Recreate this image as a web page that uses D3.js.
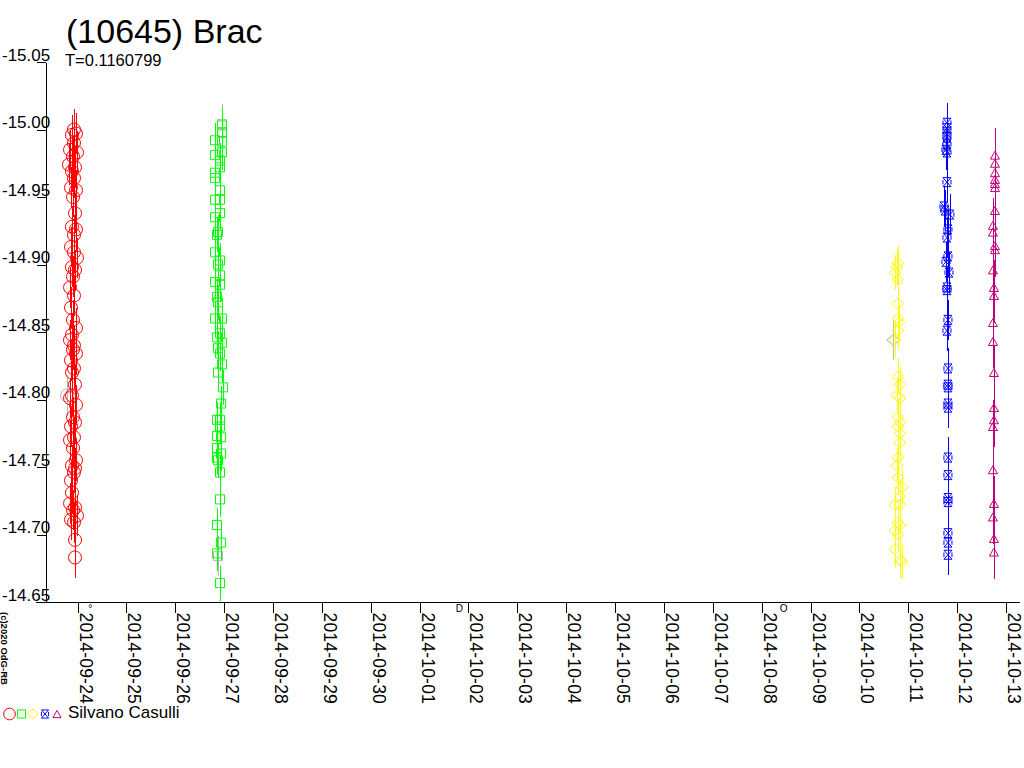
<!DOCTYPE html>
<html><head><meta charset="utf-8">
<script src="https://cdn.jsdelivr.net/npm/d3@7"></script>
<style>
html,body{margin:0;padding:0;background:#fff;}
svg{display:block;font-family:"Liberation Sans",Arial,sans-serif;}
</style></head><body>
<svg id="chart" width="1024" height="768"></svg>
<script>
// ---------- data ----------
const titleText = "(10645) Brac";
const subtitleText = "T=0.1160799";
const observerName = "Silvano Casulli";
const creditText = "(c)2020 OdG-RB";
const baseDate = "2014-09-24";           // day offsets below are counted from this date (UT)
const xStart = "2014-09-24", xEnd = "2014-10-13";
const yTicks = [-15.05, -15.00, -14.95, -14.90, -14.85, -14.80, -14.75, -14.70, -14.65];

const moonDates = ["2014-09-24T06:14Z", "2014-10-01T19:33Z", "2014-10-08T10:51Z"];
const moonSymbols = ["°", "D", "O"];

// series 1 (red circles)
const redDT = [-0.072,-0.031,-0.113,-0.072,-0.153,-0.010,-0.092,-0.174,-0.051,-0.113,-0.072,-0.133,-0.031,-0.092,-0.051,-0.113,-0.031,-0.072,-0.133,-0.072,-0.010,-0.113,-0.051,-0.092,-0.153,-0.072,-0.133,-0.092,-0.031,-0.113,-0.153,-0.072,-0.092,-0.031,-0.133,-0.072,-0.113,-0.051,-0.113,-0.153,-0.031,-0.092,-0.051,-0.133,-0.072,-0.153,-0.092,-0.031,-0.113,-0.051,-0.072,-0.133,-0.113,-0.153,-0.051,-0.092,-0.010,-0.133,-0.072,-0.051,-0.051];
const redMag = [-15.000,-14.997,-14.996,-14.990,-14.985,-14.983,-14.980,-14.974,-14.972,-14.969,-14.964,-14.957,-14.955,-14.950,-14.938,-14.928,-14.926,-14.922,-14.913,-14.909,-14.905,-14.898,-14.896,-14.891,-14.883,-14.877,-14.868,-14.859,-14.853,-14.848,-14.844,-14.840,-14.837,-14.834,-14.829,-14.823,-14.820,-14.811,-14.803,-14.801,-14.796,-14.787,-14.783,-14.780,-14.772,-14.770,-14.764,-14.755,-14.751,-14.749,-14.746,-14.740,-14.731,-14.723,-14.720,-14.718,-14.714,-14.711,-14.709,-14.696,-14.683];
// series 2 (green squares)
const greenDT = [2.957,2.957,2.814,2.957,2.957,2.814,2.916,2.916,2.814,2.814,2.916,2.814,2.916,2.916,2.814,2.875,2.854,2.814,2.916,2.875,2.916,2.814,2.916,2.854,2.875,2.814,2.957,2.916,2.854,2.957,2.875,2.916,2.957,2.875,2.977,2.936,2.854,2.916,2.916,2.854,2.936,2.854,2.936,2.854,2.875,2.916,2.916,2.854,2.936,2.854,2.916];
const greenMag = [-15.003,-14.998,-14.992,-14.991,-14.983,-14.981,-14.977,-14.972,-14.968,-14.964,-14.955,-14.948,-14.948,-14.938,-14.935,-14.924,-14.922,-14.909,-14.903,-14.900,-14.892,-14.887,-14.885,-14.876,-14.872,-14.860,-14.860,-14.849,-14.846,-14.842,-14.838,-14.834,-14.826,-14.820,-14.809,-14.797,-14.785,-14.785,-14.780,-14.773,-14.772,-14.764,-14.760,-14.757,-14.755,-14.746,-14.726,-14.707,-14.694,-14.686,-14.664];
// series 3 (yellow diamonds)
const yellowDT = [16.789,16.769,16.728,16.789,16.789,16.789,16.810,16.789,16.728,16.789,16.830,16.769,16.830,16.789,16.830,16.789,16.830,16.830,16.789,16.769,16.789,16.871,16.830,16.728,16.830,16.789,16.830,16.728,16.789,16.728,16.830,16.871];
const yellowMag = [-14.901,-14.898,-14.894,-14.889,-14.871,-14.860,-14.857,-14.851,-14.844,-14.817,-14.811,-14.803,-14.801,-14.787,-14.783,-14.780,-14.775,-14.768,-14.757,-14.751,-14.742,-14.735,-14.728,-14.722,-14.722,-14.709,-14.707,-14.703,-14.700,-14.689,-14.681,-14.680];
// series 4 (blue hourglass boxes)
const blueDT = [17.792,17.792,17.792,17.792,17.792,17.771,17.792,17.792,17.731,17.751,17.853,17.812,17.792,17.812,17.771,17.833,17.792,17.792,17.812,17.792,17.812,17.812,17.812,17.812,17.812,17.812,17.812,17.812,17.812,17.812,17.812,17.812];
const blueMag = [-15.005,-15.001,-14.997,-14.994,-14.989,-14.985,-14.983,-14.961,-14.943,-14.940,-14.937,-14.926,-14.920,-14.906,-14.902,-14.894,-14.883,-14.881,-14.859,-14.851,-14.823,-14.811,-14.809,-14.797,-14.794,-14.757,-14.744,-14.727,-14.724,-14.701,-14.694,-14.685];
// series 5 (magenta triangles)
const magentaDT = [18.774,18.774,18.774,18.774,18.774,18.774,18.774,18.733,18.733,18.774,18.774,18.733,18.753,18.753,18.733,18.733,18.753,18.753,18.753,18.733,18.733,18.753,18.733,18.753,18.753];
const magentaMag = [-14.981,-14.975,-14.968,-14.963,-14.960,-14.957,-14.940,-14.929,-14.924,-14.914,-14.911,-14.896,-14.883,-14.877,-14.857,-14.843,-14.820,-14.794,-14.785,-14.780,-14.748,-14.723,-14.713,-14.697,-14.687];
// rejected points (grey)
const greyDT = [-0.215, 2.957, 2.875, 16.687];
const greyMag = [-14.803, -15.004, -14.684, -14.844];
const greyShape = ["circle", "square", "square", "diamond"];

const seriesErr = [0.015, 0.013, 0.013, 0.015, 0.020];
const seriesColors = ["#ff0000", "#00ff00", "#ffff00", "#0000ff", "#c0007f"];
const seriesShapes = ["circle", "square", "diamond", "hourglass", "triangle"];
const greyColor = "#b4b4b4";

// ---------- chart ----------
const svg = d3.select("#chart");
const DAY = 86400000;
const base = Date.parse(baseDate + "T00:00Z");
const toDate = dt => new Date(base + dt * DAY);

const x = d3.scaleUtc().domain([new Date(xStart + "T00:00Z"), new Date(xEnd + "T00:00Z")]).range([77.5, 1006]);
const y = d3.scaleLinear().domain([-15.05, -14.65]).range([62, 602]);

function shapePath(shape, s) {
  switch (shape) {
    case "circle": { const r = 6.5 * s; return `M${-r},0A${r},${r} 0 1,0 ${r},0A${r},${r} 0 1,0 ${-r},0Z`; }
    case "square": { const h = 4.5 * s; return `M${-h},${-h}H${h}V${h}H${-h}Z`; }
    case "diamond": { const w = 6 * s, h = 5.5 * s; return `M0,${-h}L${w},0L0,${h}L${-w},0Z`; }
    case "hourglass": { const w = 4 * s, h = 4.5 * s;
      return `M${-w},${-h}H${w}L${-w},${h}H${w}Z M${-w},${-h*0.5}V${h*0.5} M${w},${-h*0.5}V${h*0.5}`; }
    case "triangle": { const w = 4.5 * s, h = 4 * s; return `M0,${-h}L${w},${h}H${-w}Z`; }
  }
}

const seriesDT = [redDT, greenDT, yellowDT, blueDT, magentaDT];
const seriesMag = [redMag, greenMag, yellowMag, blueMag, magentaMag];

const plot = svg.append("g");

// grey (rejected) points
const greyPts = greyDT.map((d, i) => ({ t: toDate(d), m: greyMag[i], shape: greyShape[i] }));
plot.selectAll("line.grey").data(greyPts).join("line")
  .attr("x1", d => Math.round(x(d.t)) + 0.5).attr("x2", d => Math.round(x(d.t)) + 0.5)
  .attr("y1", d => y(d.m - 0.015)).attr("y2", d => y(d.m + 0.015))
  .attr("stroke", greyColor).attr("stroke-width", 1).attr("shape-rendering", "crispEdges");
plot.selectAll("path.grey").data(greyPts).join("path")
  .attr("transform", d => `translate(${x(d.t)},${y(d.m)})`)
  .attr("d", d => shapePath(d.shape, 1))
  .attr("fill", "none").attr("stroke", greyColor).attr("stroke-width", 1);

seriesDT.forEach((dts, si) => {
  const pts = dts.map((d, i) => ({ t: toDate(d), m: seriesMag[si][i] }));
  const g = plot.append("g");
  g.selectAll("line").data(pts).join("line")
    .attr("x1", d => Math.round(x(d.t)) + 0.5).attr("x2", d => Math.round(x(d.t)) + 0.5)
    .attr("y1", d => y(d.m - seriesErr[si])).attr("y2", d => y(d.m + seriesErr[si]))
    .attr("stroke", seriesColors[si]).attr("stroke-width", 1).attr("shape-rendering", "crispEdges");
  g.selectAll("path").data(pts).join("path")
    .attr("transform", d => `translate(${x(d.t)},${y(d.m)})`)
    .attr("d", shapePath(seriesShapes[si], 1))
    .attr("fill", "none").attr("stroke", seriesColors[si]).attr("stroke-width", 1);
});

// y axis
const yAxis = d3.axisLeft(y).tickValues(yTicks).tickSize(9).tickSizeOuter(0)
  .tickFormat(d => d.toFixed(2));
const gy = svg.append("g").attr("transform", "translate(45.5,0)").call(yAxis);
gy.select(".domain").attr("stroke", "#000").attr("shape-rendering", "crispEdges");
gy.selectAll(".tick line").attr("stroke", "#000").attr("shape-rendering", "crispEdges");
gy.selectAll(".tick text")
  .attr("x", -43.5).attr("dy", "-2px").attr("text-anchor", "start")
  .attr("font-size", 17).attr("font-family", "Liberation Sans, Arial, sans-serif").attr("fill", "#000");

// x axis
const xAxis = d3.axisBottom(x).ticks(d3.utcDay.every(1)).tickSize(10).tickSizeOuter(0)
  .tickFormat(d3.utcFormat("%Y-%m-%d"));
const gx = svg.append("g").attr("transform", "translate(0,602.5)").call(xAxis);
gx.select(".domain").remove();
gx.selectAll(".tick line").attr("stroke", "#000").attr("shape-rendering", "crispEdges");
gx.selectAll(".tick text")
  .attr("transform", "translate(1.5,10) rotate(90)")
  .attr("x", 0).attr("y", 0).attr("dy", 0)
  .attr("text-anchor", "start").attr("letter-spacing", "0.2px")
  .attr("font-size", 17.5).attr("font-family", "Liberation Sans, Arial, sans-serif").attr("fill", "#000");
svg.append("line").attr("x1", 36).attr("x2", 1020).attr("y1", 602.5).attr("y2", 602.5)
  .attr("stroke", "#000").attr("shape-rendering", "crispEdges");

// moon phases
svg.selectAll("text.moon").data(moonDates).join("text")
  .attr("x", d => x(new Date(d))).attr("y", 612)
  .attr("text-anchor", "middle").attr("font-size", 10).attr("fill", "#000")
  .text((d, i) => moonSymbols[i]);

// title
svg.append("text").attr("x", 66).attr("y", 43).attr("font-size", 34).attr("fill", "#000").text(titleText);
svg.append("text").attr("x", 65).attr("y", 66).attr("font-size", 16.5).attr("fill", "#000").text(subtitleText);

// credit
svg.append("text").attr("transform", "translate(1,612) rotate(90)")
  .attr("font-size", 9.5).attr("font-weight", "bold").attr("fill", "#000").text(creditText);

// legend
const legX = [9.5, 21.5, 33, 45, 57];
seriesShapes.forEach((s, i) => {
  svg.append("path").attr("transform", `translate(${legX[i]},714)`)
    .attr("d", shapePath(s, 0.9))
    .attr("fill", "none").attr("stroke", seriesColors[i]).attr("stroke-width", 1);
});
svg.append("text").attr("x", 68).attr("y", 718).attr("font-size", 17).attr("fill", "#000").text(observerName);
</script>
</body></html>
